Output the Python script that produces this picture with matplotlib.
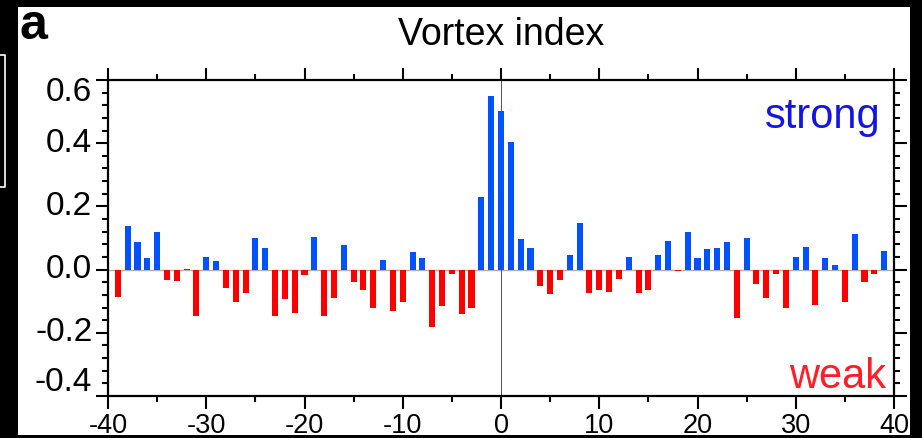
import matplotlib
matplotlib.use("Agg")
import matplotlib.pyplot as plt
from matplotlib.lines import Line2D
from matplotlib.patches import Rectangle
from matplotlib.ticker import MultipleLocator
import matplotlib.transforms as mtransforms

# lagged vortex index, lags -39 .. 39
lags = list(range(-39, 40))
vortex_index = [
    -0.086, 0.137, 0.087, 0.038, 0.120, -0.032, -0.035, 0.002, -0.147, 0.041,
    0.026, -0.058, -0.102, -0.074, 0.099, 0.067, -0.147, -0.093, -0.137, -0.016,
    0.104, -0.147, -0.089, 0.079, -0.038, -0.065, -0.120, 0.031, -0.131, -0.102,
    0.057, 0.036, -0.181, -0.116, -0.015, -0.140, -0.122, 0.229, 0.549, 0.502,
    0.403, 0.097, 0.067, -0.051, -0.077, -0.032, 0.047, 0.147, -0.075, -0.065,
    -0.071, -0.029, 0.041, -0.074, -0.066, 0.046, 0.092, -0.006, 0.119, 0.038,
    0.066, 0.067, 0.086, -0.152, 0.099, -0.045, -0.091, -0.015, -0.122, 0.041,
    0.071, -0.112, 0.036, 0.013, -0.104, 0.113, -0.038, -0.013, 0.060,
]
x_ticks = [-40, -30, -20, -10, 0, 10, 20, 30, 40]
y_ticks = [-0.4, -0.2, 0.0, 0.2, 0.4, 0.6]
y_tick_labels = ["-0.4", "-0.2", "0.0", "0.2", "0.4", "0.6"]

BLUE = "#0052ff"
RED = "#ff0000"
FONT = ["Liberation Sans", "DejaVu Sans"]
plt.rcParams["axes.unicode_minus"] = False

W, H = 922, 438
fig = plt.figure(figsize=(W / 100, H / 100), dpi=100)
fig.patch.set_facecolor("white")
ax = fig.add_axes([108 / W, 1 - 396 / H, 786 / W, 316 / H])

colors = [BLUE if v >= 0 else RED for v in vortex_index]
ax.bar(lags, vortex_index, width=0.62, color=colors, edgecolor="none", zorder=3)
ax.axhline(0, color="#b0b0b0", lw=1.0, zorder=2)
ax.axvline(0, color="#505050", lw=0.7, zorder=2)

ax.set_xlim(-40, 40)
ax.set_ylim(-0.4, 0.6)
ax.set_xticks(x_ticks)
ax.xaxis.set_minor_locator(MultipleLocator(5))
ax.set_yticks(y_ticks)
ax.yaxis.set_minor_locator(MultipleLocator(0.04))
ax.set_yticklabels([])
for lab in ax.get_xticklabels():
    lab.set_family(FONT)
    lab.set_fontsize(19.5)

ax.tick_params(which="both", direction="out", top=True, right=True,
               width=1.5, colors="black")
ax.tick_params(which="major", length=9)
ax.tick_params(which="minor", length=4.5)
ax.tick_params(axis="x", pad=3)
for sp in ax.spines.values():
    sp.set_linewidth(1.6)

# y labels drawn by hand so the end labels sit just inside the axis range
ylab_tr = mtransforms.blended_transform_factory(ax.transAxes, ax.transData)
for val, txt in zip(y_ticks, y_tick_labels):
    yy = min(max(val, -0.4 + 0.042), 0.6 - 0.04)
    ax.text(-0.02, yy, txt, transform=ylab_tr, ha="right", va="center",
            fontsize=24, family=FONT, clip_on=False)

ax.text(0.983, 0.848, "strong", transform=ax.transAxes, ha="right",
        va="baseline", fontsize=30, color="#1414e6", family=FONT)
ax.text(0.99, 0.025, "weak", transform=ax.transAxes, ha="right",
        va="baseline", fontsize=30, color="#ff1e28", family=FONT)

fig.text(501 / W, 1 - 45 / H, "Vortex index", ha="center", va="baseline",
         fontsize=27, family=FONT)
fig.text(19 / W, 1 - 39 / H, "a", ha="left", va="baseline", fontsize=36,
         fontweight="bold", family=FONT)

# black page border
for x0, y0, w, h in [(0, 0, W, 7), (0, 0, 18, H), (910, 0, 12, H), (0, 435, W, 3)]:
    fig.add_artist(Rectangle((x0 / W, 1 - (y0 + h) / H), w / W, h / H,
                             transform=fig.transFigure, color="black",
                             lw=0, zorder=10))
fig.add_artist(Line2D([0, 4.5 / W, 4.5 / W, 0],
                      [1 - 55 / H, 1 - 55 / H, 1 - 187 / H, 1 - 187 / H],
                      transform=fig.transFigure, color="white", lw=1.2,
                      zorder=11))

fig.savefig("out.png", dpi=100)
